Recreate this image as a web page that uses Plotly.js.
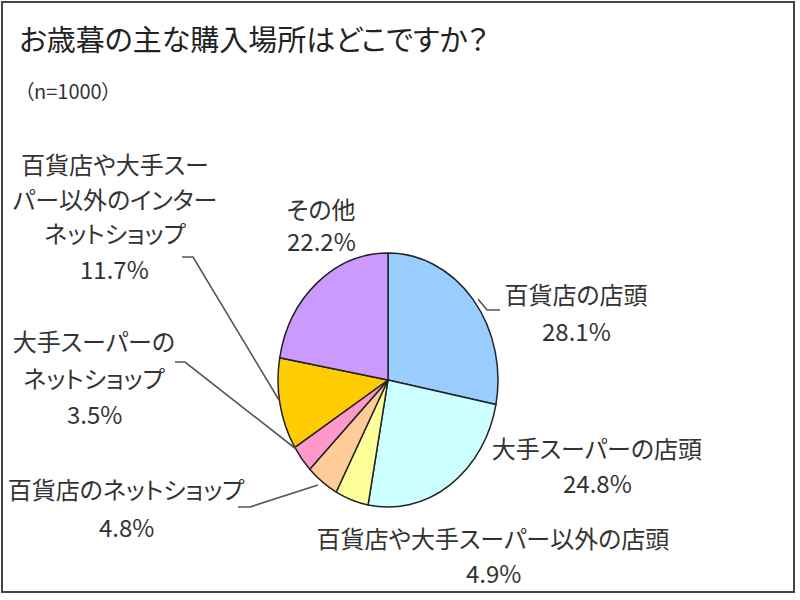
<!DOCTYPE html>
<html>
<head>
<meta charset="utf-8">
<script src="https://cdn.plot.ly/plotly-3.0.1.min.js"></script>
<style>
  html, body { margin: 0; padding: 0; background: #fff; }
  #chart { width: 800px; height: 600px; }
  #chart text { font-feature-settings: "palt" 1; }
</style>
</head>
<body>
<div id="chart"></div>
<script>
// ---- data ----
var categories = [
  '百貨店の店頭',
  '大手スーパーの店頭',
  '百貨店や大手スーパー以外の店頭',
  '百貨店のネットショップ',
  '大手スーパーのネットショップ',
  '百貨店や大手スーパー以外のインターネットショップ',
  'その他'
];
var shares = [28.1, 24.8, 4.9, 4.8, 3.5, 11.7, 22.2];
var sliceColors = ['#99CCFF', '#CCFFFF', '#FFFF99', '#FFCC99', '#FF99CC', '#FFCC00', '#CC99FF'];
var chartTitle = 'お歳暮の主な購入場所はどこですか？';
var sampleNote = '（n=1000）';

// label line breaks as shown in the chart
var labelLines = [
  ['百貨店の店頭'],
  ['大手スーパーの店頭'],
  ['百貨店や大手スーパー以外の店頭'],
  ['百貨店のネットショップ'],
  ['大手スーパーの', 'ネットショップ'],
  ['百貨店や大手スー', 'パー以外のインター', 'ネットショップ'],
  ['その他']
];

// ---- layout helpers (pixel positions) ----
var W = 800, H = 600;
function px(x) { return x / W; }
function py(y) { return 1 - y / H; }
var labelPos = [
  {x: 576, y: 293, dy: 37},
  {x: 597, y: 447, dy: 35},
  {x: 493, y: 537, dy: 35},
  {x: 126, y: 488, dy: 38},
  {x: 94,  y: 340, dy: 37},
  {x: 115, y: 163, dy: 35},
  {x: 321, y: 208, dy: 33}
];
var leaders = [
  [[478, 299], [487, 310], [500, 310]],
  [[182, 257], [193, 257], [279, 400]],
  [[175, 362], [185, 362], [296, 449]],
  [[238, 507], [250, 507], [318, 485]]
];

var txtFont = {family: '"Noto Sans CJK JP", "Noto Sans", sans-serif', size: 24, color: '#333'};

var annotations = [];
categories.forEach(function (c, i) {
  var lines = labelLines[i].concat([shares[i].toFixed(1) + '%']);
  var p = labelPos[i];
  lines.forEach(function (t, j) {
    annotations.push({
      text: t, showarrow: false, xref: 'paper', yref: 'paper',
      x: px(p.x), y: py(p.y + j * p.dy), xanchor: 'center', yanchor: 'middle',
      font: txtFont
    });
  });
});
annotations.push({
  text: sampleNote, showarrow: false, xref: 'paper', yref: 'paper',
  x: px(12), y: py(90), xanchor: 'left', yanchor: 'middle',
  font: {family: '"Noto Sans CJK JP", "Noto Sans", sans-serif', size: 20, color: '#333'}
});

var shapes = leaders.map(function (pts) {
  var d = pts.map(function (p, k) { return (k ? 'L' : 'M') + px(p[0]) + ',' + py(p[1]); }).join(' ');
  return {type: 'path', xref: 'paper', yref: 'paper', path: d, line: {color: '#555', width: 1.6}};
});
shapes.push({
  type: 'rect', xref: 'paper', yref: 'paper',
  x0: px(2), x1: px(794), y0: py(592), y1: py(2),
  line: {color: '#444', width: 2}
});

var R = 110, CX = 388, CY = 380, RY = 127;
var trace = {
  type: 'pie',
  labels: categories,
  values: shares,
  sort: false,
  direction: 'clockwise',
  rotation: 0,
  textinfo: 'none',
  hoverinfo: 'label+percent',
  marker: {colors: sliceColors, line: {color: '#222', width: 1.5}},
  domain: {x: [px(CX - R), px(CX + R)], y: [py(CY + R), py(CY - R)]}
};

var layout = {
  width: W, height: H,
  margin: {l: 0, r: 0, t: 0, b: 0},
  paper_bgcolor: '#fff',
  showlegend: false,
  title: {
    text: chartTitle, xref: 'paper', yref: 'paper',
    x: px(19), xanchor: 'left', y: py(41), yanchor: 'middle',
    font: {family: '"Noto Sans CJK JP", "Noto Sans", sans-serif', size: 29, color: '#222'}
  },
  annotations: annotations,
  shapes: shapes
};

Plotly.newPlot('chart', [trace], layout, {displayModeBar: false, staticPlot: true}).then(function (gd) {
  var cd0 = gd.calcdata[0][0];
  var cx = cd0.cx, cy = cd0.cy, r = cd0.r || R;
  var sy = RY / r;
  var layer = gd.querySelector('.pielayer');
  if (layer) {
    layer.setAttribute('transform',
      'translate(' + cx + ',' + cy + ') scale(1,' + sy + ') translate(' + (-cx) + ',' + (-cy) + ')');
    layer.querySelectorAll('path').forEach(function (p) { p.setAttribute('vector-effect', 'non-scaling-stroke'); });
  }
});
</script>
</body>
</html>
